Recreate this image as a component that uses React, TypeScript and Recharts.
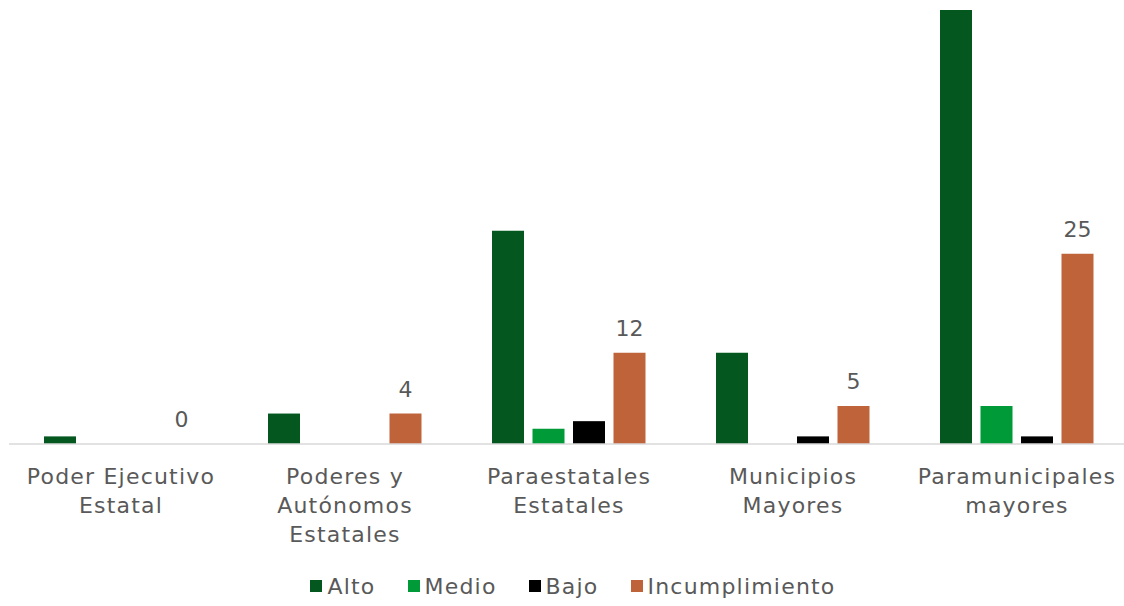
import { BarChart, Bar, XAxis, YAxis, Legend, LabelList } from "recharts";

const categories = [
  "Poder Ejecutivo\nEstatal",
  "Poderes y\nAutónomos\nEstatales",
  "Paraestatales\nEstatales",
  "Municipios\nMayores",
  "Paramunicipales\nmayores",
];
const alto = [1, 4, 28, 12, 57];
const medio = [0, 0, 2, 0, 5];
const bajo = [0, 0, 3, 1, 1];
const incumplimiento = [0, 4, 12, 5, 25];

const series = [
  { key: "alto", name: "Alto", color: "#03571f" },
  { key: "medio", name: "Medio", color: "#009a38" },
  { key: "bajo", name: "Bajo", color: "#000000" },
  { key: "incumplimiento", name: "Incumplimiento", color: "#bf643a" },
];

const data = categories.map((c, i) => ({
  name: c,
  alto: alto[i],
  medio: medio[i],
  bajo: bajo[i],
  incumplimiento: incumplimiento[i],
}));

const FONT = "'DejaVu Sans', sans-serif";
const GRAY = "#595959";

function CatTick(props: any) {
  const { x, y, payload } = props;
  const lines = String(payload.value).split("\n");
  return (
    <text x={x} y={y} textAnchor="middle" fill={GRAY} fontSize={22} fontFamily={FONT} letterSpacing={1.2}>
      {lines.map((l, i) => (
        <tspan key={i} x={x} dy={i === 0 ? 40 : 29}>
          {l}
        </tspan>
      ))}
    </text>
  );
}

// value label drawn above the bar
function TopLabel(props: any) {
  const { x, y, width, height, value } = props;
  const top = Math.min(Number(y), Number(y) + Number(height || 0));
  return (
    <text x={Number(x) + Number(width) / 2} y={top - 17} textAnchor="middle" fill={GRAY} fontSize={22} fontFamily={FONT}>
      {value}
    </text>
  );
}

function LegendBox() {
  return (
    <div
      style={{
        height: 40,
        display: "flex",
        justifyContent: "center",
        alignItems: "center",
        paddingLeft: 8,
        fontFamily: FONT,
        fontSize: 22,
        letterSpacing: 1.2,
        color: GRAY,
      }}
    >
      {series.map((s) => (
        <div key={s.key} style={{ display: "flex", alignItems: "center", margin: "0 16px" }}>
          <span style={{ width: 12, height: 12, background: s.color, marginRight: 5 }} />
          <span>{s.name}</span>
        </div>
      ))}
    </div>
  );
}

export default function App() {
  return (
    <div style={{ position: "absolute", left: 0, top: 0, width: 1124, height: 606, overflow: "hidden", background: "#fff" }}>
      <BarChart
        width={1129}
        height={606}
        data={data}
        margin={{ top: 10, right: 0, bottom: 0, left: 9 }}
        barSize={32}
        barGap={8.5}
      >
        <XAxis
          dataKey="name"
          interval={0}
          tickLine={false}
          tickSize={0}
          tickMargin={0}
          height={122}
          axisLine={{ stroke: "#d9d9d9", strokeWidth: 1.5 }}
          tick={<CatTick />}
        />
        <YAxis hide domain={[0, 57]} />
        <Legend verticalAlign="bottom" content={<LegendBox />} wrapperStyle={{ height: 40 }} />
        {series.map((s) => (
          <Bar
            key={s.key}
            dataKey={s.key}
            name={s.name}
            fill={s.color}
            minPointSize={s.key === "incumplimiento" ? 0.01 : 0}
            isAnimationActive={false}
          >
            {s.key === "incumplimiento" && <LabelList dataKey={s.key} content={<TopLabel />} />}
          </Bar>
        ))}
      </BarChart>
    </div>
  );
}
